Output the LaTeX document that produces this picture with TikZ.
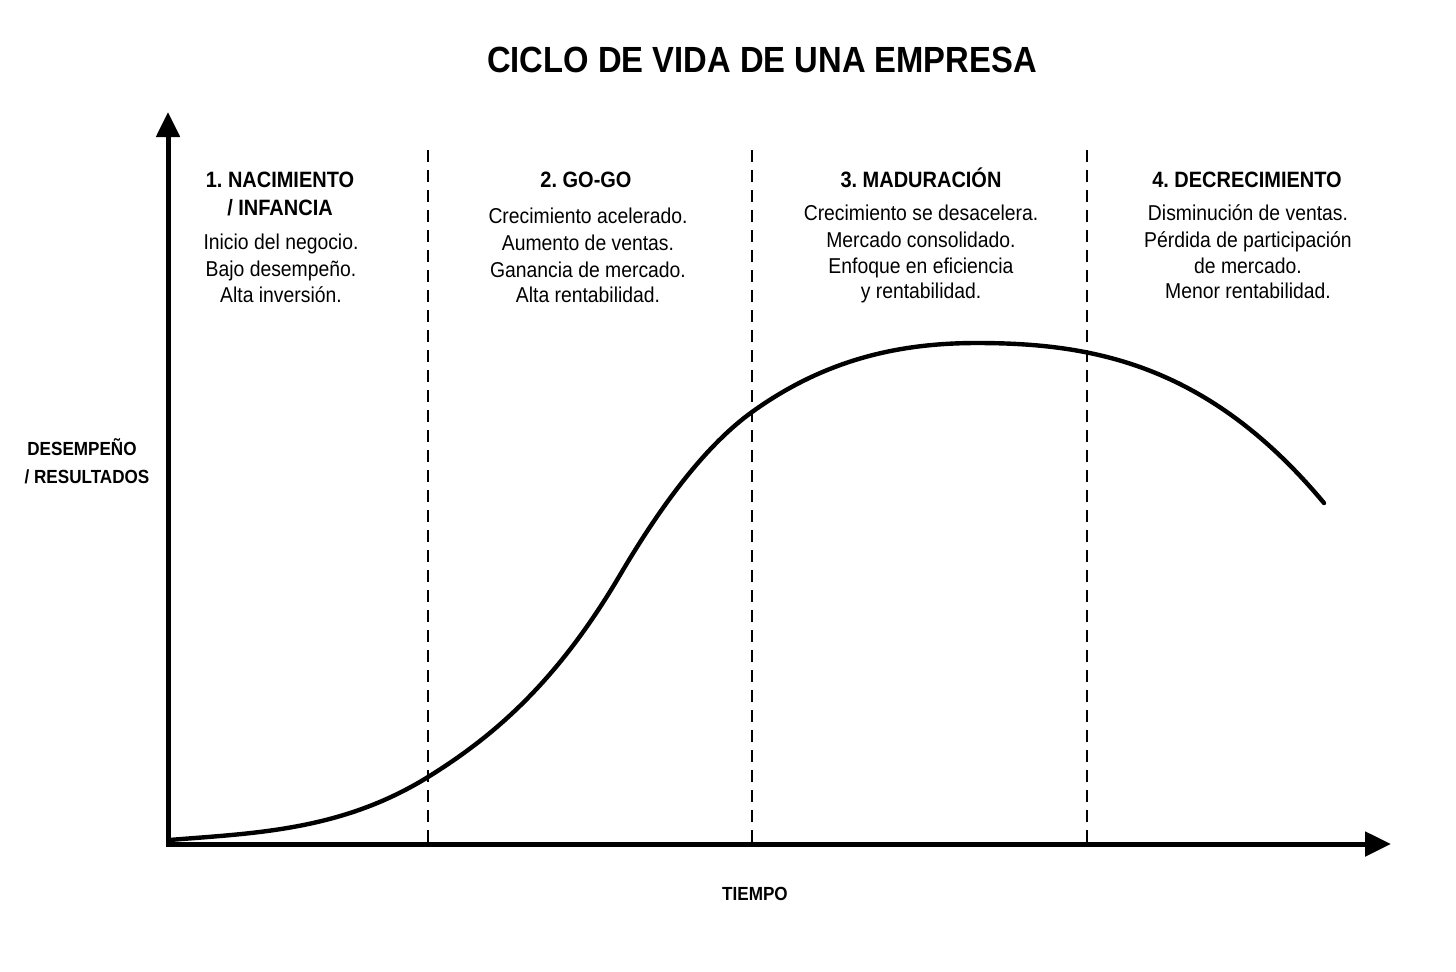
\documentclass[tikz,border=0pt]{standalone}
\usepackage{fontspec}
\setmainfont{Liberation Sans}[FakeStretch=0.9]
\usetikzlibrary{arrows.meta}
\frenchspacing
\begin{document}
\begin{tikzpicture}[x=0.5pt,y=-0.5pt,
  ttl/.style={font=\fontsize{18.2}{20}\selectfont\bfseries, anchor=base, inner sep=0pt},
  head/.style={font=\fontsize{11.1}{13}\selectfont\bfseries, anchor=base, inner sep=0pt},
  body/.style={font=\fontsize{10.75}{13}\selectfont, anchor=base, inner sep=0pt},
  axlab/.style={font=\fontsize{9.5}{11}\selectfont\bfseries, anchor=base, inner sep=0pt},
  axisline/.style={line width=2.5pt, line join=miter,
    {Triangle[width=11.5pt,length=12.5pt]}-{Triangle[width=12pt,length=13pt]}},
  divider/.style={line width=1pt, dash pattern=on 6pt off 4pt},
  lifecurve/.style={line width=2.2pt, line cap=round, line join=round}]
\useasboundingbox (0,0) rectangle (1456,971);
\fill[white] (0,0) rectangle (1456,971);

% title
\node[ttl] (title) at (762,72) {\frenchspacing CICLO DE VIDA DE UNA EMPRESA};

% axes
\coordinate (O) at (168,844);
\coordinate (Ytip) at (168,112);
\coordinate (Xtip) at (1391,844);

% dividers
\foreach \x/\n in {428/d1,752/d2,1087/d3}{
  \coordinate (\n t) at (\x,150);
  \coordinate (\n b) at (\x,842);
  \draw[divider] (\n t) -- (\n b);
}

\draw[axisline] (Ytip) -- (O) -- (Xtip);

% curve
\coordinate (P0) at (169,840);
\coordinate (P1) at (428,777);
\coordinate (P2) at (620,575);
\coordinate (P3) at (752,412);
\coordinate (P4) at (977,343);
\coordinate (P5) at (1324,503);
\draw[lifecurve] (P0)
  .. controls (254.7,833.1) and (341.3,830.7) .. (P1)
  .. controls (492,737.3) and (556,683.8) .. (P2)
  .. controls (664,500.2) and (708,443.7) .. (P3)
  .. controls (827,358) and (902,343) .. (P4)
  .. controls (1092.7,343) and (1208.3,364.2) .. (P5);

% axis labels
\node[axlab] (ylab1) at (82,455) {DESEMPEÑO};
\node[axlab] (ylab2) at (87,483) {/ RESULTADOS};
\node[axlab] (xlab) at (755,900) {TIEMPO};

% column 1
\node[head] (h1a) at (280,187) {1. NACIMIENTO};
\node[head] (h1b) at (280,215) {/ INFANCIA};
\node[body] (b1a) at (281,249) {Inicio del negocio.};
\node[body] (b1b) at (281,276) {Bajo desempeño.};
\node[body] (b1c) at (281,302) {Alta inversión.};

% column 2
\node[head] (h2a) at (586,187) {2. GO-GO};
\node[body] (b2a) at (588,223) {Crecimiento acelerado.};
\node[body] (b2b) at (588,250) {Aumento de ventas.};
\node[body] (b2c) at (588,277) {Ganancia de mercado.};
\node[body] (b2d) at (588,302) {Alta rentabilidad.};

% column 3
\node[head] (h3a) at (921,187) {3. MADURACIÓN};
\node[body] (b3a) at (921,220) {Crecimiento se desacelera.};
\node[body] (b3b) at (921,247) {Mercado consolidado.};
\node[body] (b3c) at (921,273) {Enfoque en eficiencia};
\node[body] (b3d) at (921,298) {y rentabilidad.};

% column 4
\node[head] (h4a) at (1247,187) {4. DECRECIMIENTO};
\node[body] (b4a) at (1248,220) {Disminución de ventas.};
\node[body] (b4b) at (1248,247) {Pérdida de participación};
\node[body] (b4c) at (1248,273) {de mercado.};
\node[body] (b4d) at (1248,298) {Menor rentabilidad.};
\end{tikzpicture}
\end{document}
